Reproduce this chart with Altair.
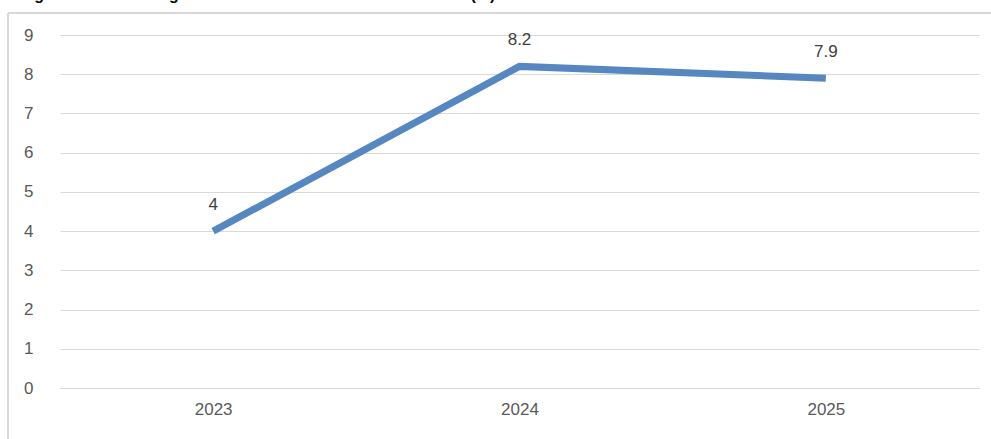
import altair as alt
import pandas as pd

years = ["2023", "2024", "2025"]
growth = [4, 8.2, 7.9]
labels = ["4", "8.2", "7.9"]
title_text = "Figure 1: Real GDP growth rate and forecast for 2023–2025 (%)"

df = pd.DataFrame({"year": years, "growth": growth, "label": labels})

W, H = 919, 353
PAD = {"left": 60, "top": 35, "right": 12, "bottom": 51}

base = alt.Chart(df)

x_enc = alt.X(
    "year:N",
    sort=years,
    scale=alt.Scale(paddingInner=0, paddingOuter=0),
    axis=alt.Axis(
        title=None, labelAngle=0, ticks=False, domain=True, domainColor="#d9d9d9",
        labelFont="Liberation Sans", labelFontSize=17, labelColor="#595959",
        labelPadding=13, grid=False,
    ),
)
y_enc = alt.Y(
    "growth:Q",
    scale=alt.Scale(domain=[0, 9], nice=False, zero=True),
    axis=alt.Axis(
        title=None, values=list(range(10)), tickCount=10, ticks=False, domain=False,
        grid=True, gridColor="#d9d9d9", gridWidth=1,
        labelFont="Liberation Sans", labelFontSize=17, labelColor="#595959",
        labelPadding=27,
    ),
)

line = base.mark_line(color="#5687C1", strokeWidth=7, strokeJoin="miter", strokeCap="butt").encode(
    x=x_enc, y=y_enc
)

text = base.mark_text(
    dy=-26, fontSize=17, font="Liberation Sans", color="#404040", baseline="middle"
).encode(x=alt.X("year:N", sort=years), y="growth:Q", text="label:N")

title = base.transform_filter(alt.datum.year == "2023").mark_text(
    align="left", baseline="alphabetic", font="Liberation Sans", fontWeight="bold",
    fontSize=16, color="#000000"
).encode(x=alt.value(-40), y=alt.value(-35), text=alt.value(title_text))

top_border = base.mark_rule(color="#d9d9d9", strokeWidth=1.5).encode(
    x=alt.value(-52), x2=alt.value(W + 40), y=alt.value(-22)
)
left_border = base.mark_rule(color="#d9d9d9", strokeWidth=1.5).encode(
    x=alt.value(-52), y=alt.value(-22), y2=alt.value(H + 80)
)

chart = (
    alt.layer(top_border, left_border, line, text, title)
    .properties(width=W, height=H, padding=PAD, autosize=alt.AutoSizeParams(type="none"),
                background="white")
    .configure_view(stroke=None)
)

chart.save("out.html", embed_options={"renderer": "svg", "actions": False})
